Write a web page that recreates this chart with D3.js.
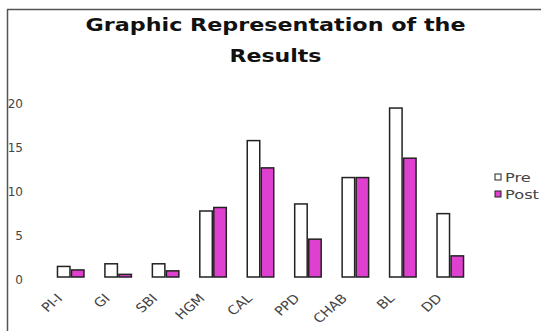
<!DOCTYPE html>
<html>
<head>
<meta charset="utf-8">
<script src="https://cdn.jsdelivr.net/npm/d3@7"></script>
<style>
  html, body { margin: 0; padding: 0; background: #fff; }
  svg { display: block; }
</style>
</head>
<body>
<svg id="chart" width="541" height="331"></svg>
<script>
// ---- data ----
const categories = ["PI-I", "GI", "SBI", "HGM", "CAL", "PPD", "CHAB", "BL", "DD"];
const seriesNames = ["Pre", "Post"];
const preValues  = [1.2, 1.5, 1.5, 7.5, 15.5, 8.3, 11.3, 19.2, 7.2];
const postValues = [0.8, 0.3, 0.7, 7.9, 12.4, 4.3, 11.3, 13.5, 2.4];
const yTicks = [0, 5, 10, 15, 20];
const titleLines = ["Graphic Representation of the", "Results"];

// ---- layout ----
const W = 541, H = 331;
const plot = { left: 47, right: 474, top: 101, bottom: 277 };
const colors = { Pre: "#ffffff", Post: "#e040cf" };
const stroke = "#222";
const textColor = "#444";

const svg = d3.select("#chart");
svg.append("rect").attr("width", W).attr("height", H).attr("fill", "#fff");

const x = d3.scaleBand().domain(categories).range([plot.left, plot.right])
  .paddingInner(0.41).paddingOuter(0.205);
const xs = d3.scaleBand().domain(seriesNames).range([0, x.bandwidth()]);
const y = d3.scaleLinear().domain([0, 20]).range([plot.bottom, plot.top]);

// frame lines
svg.append("line").attr("x1", 7.5).attr("x2", 7.5).attr("y1", 9).attr("y2", H)
  .attr("stroke", "#555").attr("stroke-width", 1.5);
svg.append("line").attr("x1", 7).attr("x2", W).attr("y1", 9.5).attr("y2", 9.5)
  .attr("stroke", "#555").attr("stroke-width", 1.5);

// title
const title = svg.append("g").attr("font-family", "DejaVu Sans").attr("font-weight", "bold")
  .attr("font-size", 18).attr("fill", "#111").attr("text-anchor", "middle");
title.append("text").attr("x", 275.5).attr("y", 31).text(titleLines[0])
  .attr("textLength", 380).attr("lengthAdjust", "spacingAndGlyphs");
title.append("text").attr("x", 275.5).attr("y", 62).text(titleLines[1])
  .attr("textLength", 92).attr("lengthAdjust", "spacingAndGlyphs");

// y axis (no line, labels only)
const yAxis = d3.axisLeft(y).tickValues(yTicks).tickSize(0).tickPadding(0);
const yg = svg.append("g").attr("transform", "translate(23,0)").call(yAxis);
yg.select(".domain").remove();
yg.selectAll("text").attr("font-family", "DejaVu Sans").attr("font-size", 12)
  .attr("fill", textColor).attr("dy", "0.55em");

// bars
const data = categories.map((c, i) => ({ cat: c, Pre: preValues[i], Post: postValues[i] }));
const groups = svg.append("g").selectAll("g").data(data).join("g")
  .attr("transform", d => `translate(${x(d.cat)},0)`);
groups.selectAll("rect").data(d => seriesNames.map(s => ({ s, v: d[s] }))).join("rect")
  .attr("x", d => xs(d.s) + 0.75)
  .attr("width", xs.bandwidth() - 1.5)
  .attr("y", d => y(d.v))
  .attr("height", d => y(0) - y(d.v))
  .attr("fill", d => colors[d.s])
  .attr("stroke", stroke).attr("stroke-width", 1.5);

// x axis labels
const xAxis = d3.axisBottom(x).tickSize(0).tickPadding(0);
const xg = svg.append("g").attr("transform", `translate(0,${plot.bottom})`).call(xAxis);
xg.select(".domain").remove();
xg.selectAll(".tick text")
  .attr("font-family", "DejaVu Sans").attr("font-size", 12.5).attr("fill", textColor)
  .attr("text-anchor", "end").attr("dy", "0.35em").attr("y", 0)
  .attr("transform", "translate(-11,19) scale(1.15,1) rotate(-45)");

// legend
const legend = svg.append("g").attr("transform", "translate(495,0)");
seriesNames.forEach((s, i) => {
  const ly = 177 + i * 17;
  legend.append("rect").attr("x", 0).attr("y", ly - 3).attr("width", 6).attr("height", 6)
    .attr("fill", colors[s]).attr("stroke", stroke).attr("stroke-width", 1);
  legend.append("text").attr("x", 10).attr("y", ly).attr("dy", "0.35em")
    .attr("font-family", "DejaVu Sans").attr("font-size", 13).attr("fill", textColor)
    .attr("transform", `translate(10,${ly}) scale(1.25,1) translate(-10,${-ly})`)
    .text(s);
});
</script>
</body>
</html>
